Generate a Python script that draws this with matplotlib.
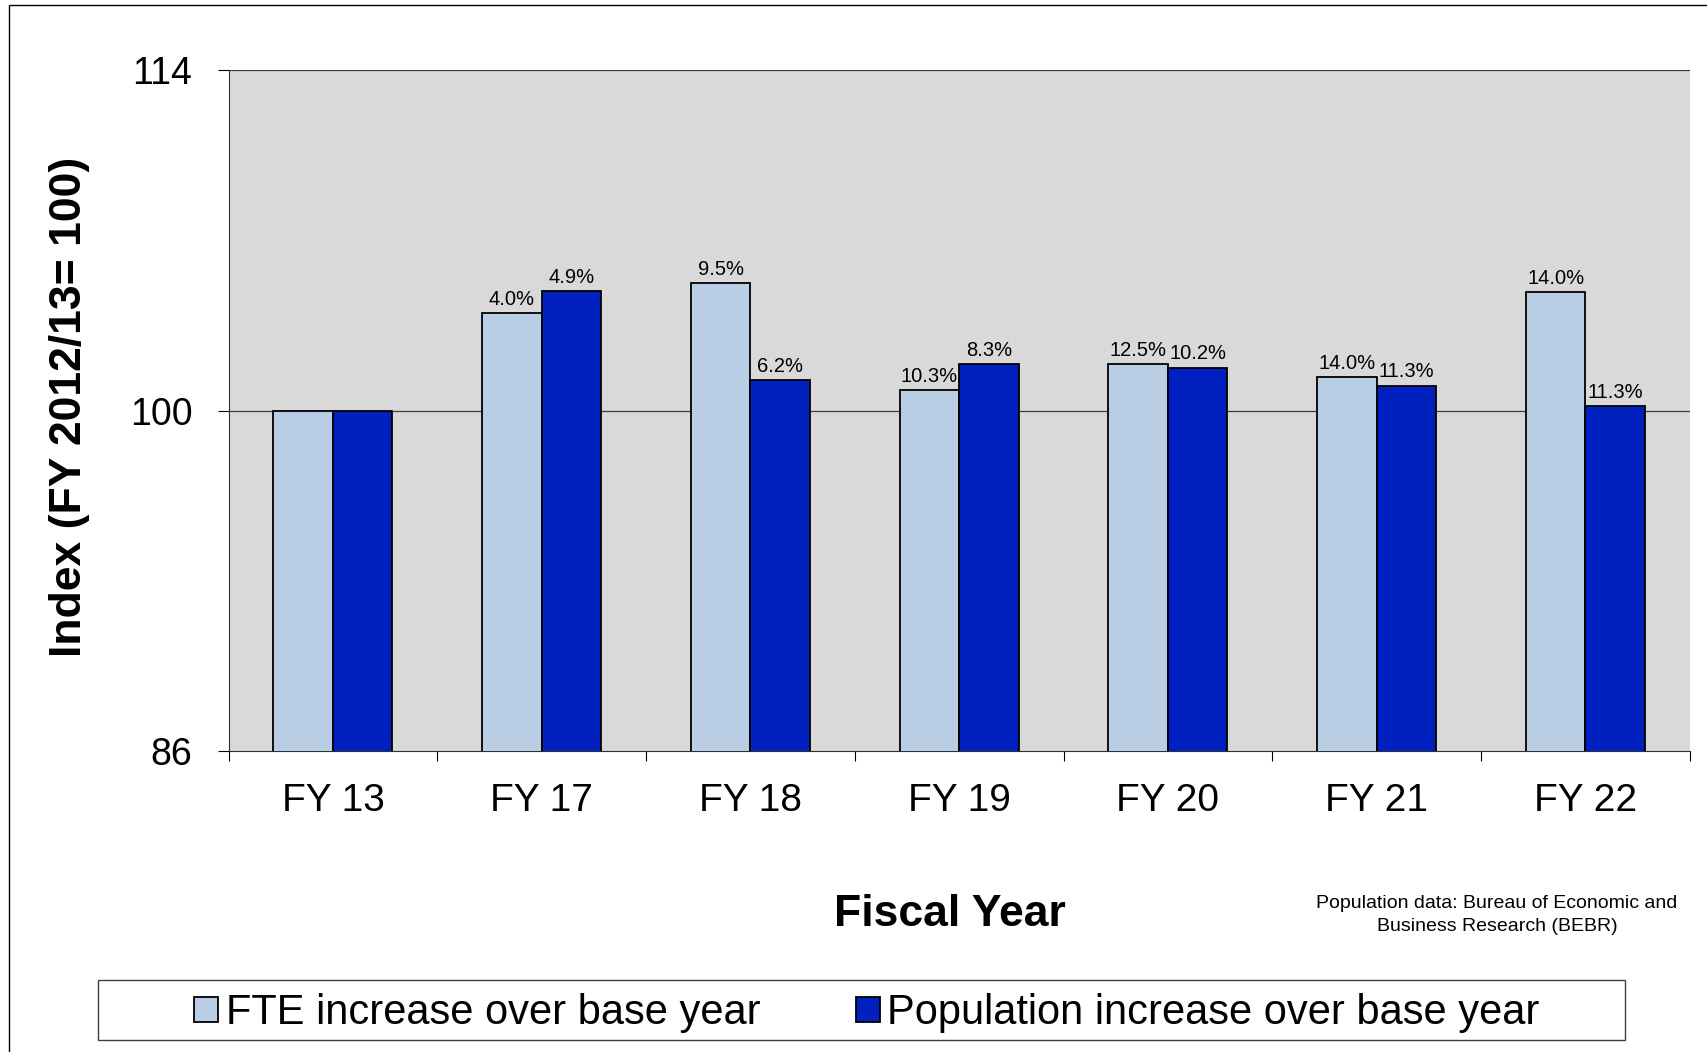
import matplotlib.pyplot as plt
from matplotlib.patches import Rectangle
import numpy as np

plt.rcParams['font.family'] = ['Liberation Sans', 'DejaVu Sans']

years = ["FY 13", "FY 17", "FY 18", "FY 19", "FY 20", "FY 21", "FY 22"]
fte = [100, 104.0, 105.25, 100.85, 101.91, 101.39, 104.88]
pop = [100, 104.9, 101.25, 101.92, 101.77, 101.03, 100.18]
fte_labels = ["", "4.0%", "9.5%", "10.3%", "12.5%", "14.0%", "14.0%"]
pop_labels = ["", "4.9%", "6.2%", "8.3%", "10.2%", "11.3%", "11.3%"]

light = "#B9CDE5"
dark = "#0020C0"

fig = plt.figure(figsize=(17.07, 10.52), dpi=100)
ax = fig.add_axes([0.1339, 0.2861, 0.8560, 0.6472])
ax.set_facecolor("#D9D9D9")

x = np.arange(len(years))
w = 0.285
b1 = ax.bar(x - w / 2, fte, w, color=light, edgecolor="black", linewidth=1.3, zorder=3,
            label="FTE increase over base year")
b2 = ax.bar(x + w / 2, pop, w, color=dark, edgecolor="black", linewidth=1.3, zorder=3,
            label="Population increase over base year")
ax.bar_label(b1, labels=fte_labels, padding=3, fontsize=14.5)
ax.bar_label(b2, labels=pop_labels, padding=3, fontsize=14.5)

ax.set_xlim(-0.5, 6.5)
ax.set_ylim(86, 114)
ax.set_yticks([86, 100, 114])
ax.tick_params(axis="y", labelsize=27, length=8, pad=18, width=0.8)
for g in [100, 114]:
    ax.axhline(g, color="#404040", linewidth=0.9, zorder=2)

ax.set_xticks(x)
ax.set_xticklabels(years)
ax.set_xticks(np.arange(-0.5, 7, 1), minor=True)
ax.tick_params(axis="x", which="major", length=0, labelsize=28, pad=23)
ax.tick_params(axis="x", which="minor", length=7, width=0.8)

for s in ["top", "right"]:
    ax.spines[s].set_visible(False)
for s in ["left", "bottom"]:
    ax.spines[s].set_linewidth(0.8)
    ax.spines[s].set_color("#303030")

fig.text(70 / 1707, 1 - 407 / 1052, "Index (FY 2012/13= 100)", rotation=90,
         ha="center", va="center", fontsize=32, fontweight="bold")
fig.text(950 / 1707, 1 - 914 / 1052, "Fiscal Year", ha="center", va="center",
         fontsize=32, fontweight="bold")
fig.text(1497 / 1707, 1 - 915 / 1052,
         "Population data: Bureau of Economic and\nBusiness Research (BEBR)",
         ha="center", va="center", fontsize=14, linespacing=1.45)

# legend frame and outer border
fig.patches.append(Rectangle((98 / 1707, 12 / 1052), 1527 / 1707, 60 / 1052,
                             transform=fig.transFigure, fill=False,
                             edgecolor="#404040", linewidth=1))
fig.patches.append(Rectangle((9 / 1707, -0.1), 2, 1.1 - 5 / 1052,
                             transform=fig.transFigure, fill=False,
                             edgecolor="black", linewidth=1))

fig.legend(handles=[b1, b2], loc="center", bbox_to_anchor=(0.508, 0.037),
           ncol=2, frameon=False, fontsize=30, handlelength=0.57, handleheight=0.57,
           handletextpad=0.18, columnspacing=2.3)

fig.savefig("out.png", dpi=100)
